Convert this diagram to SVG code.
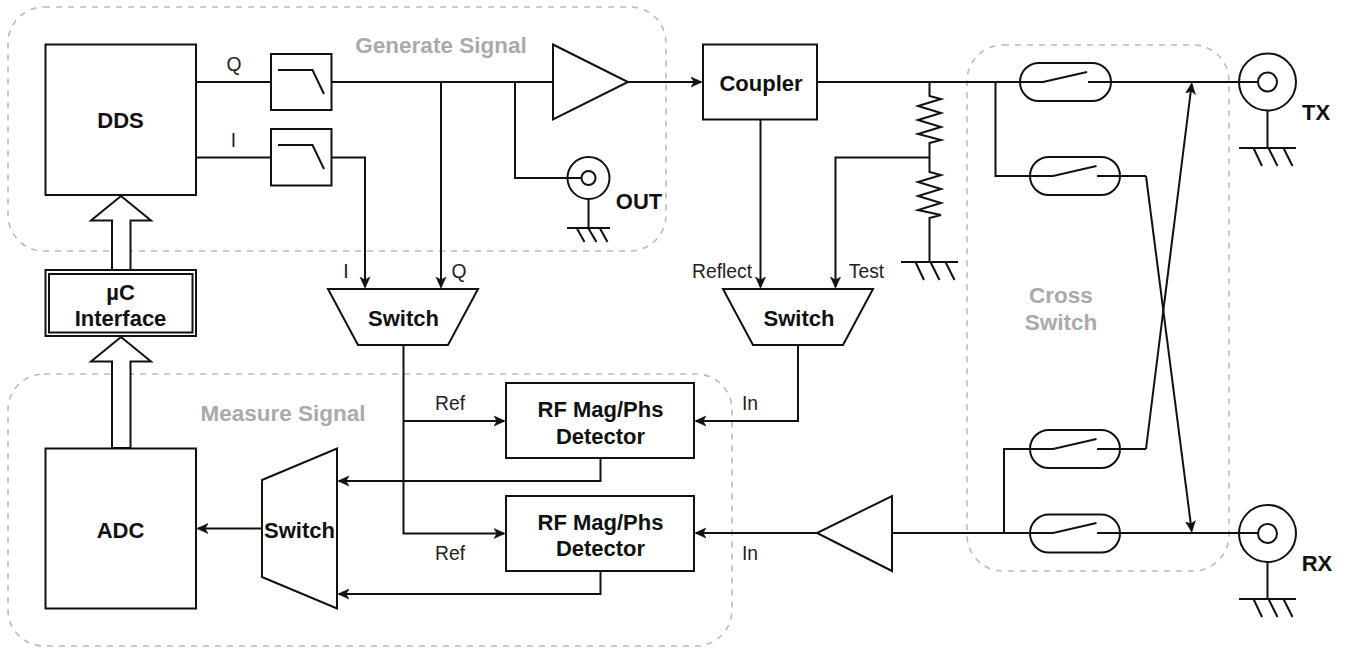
<svg xmlns="http://www.w3.org/2000/svg" width="1345" height="651" viewBox="0 0 1345 651">
<defs>
<style>
text{font-family:"Liberation Sans",Arial,sans-serif;text-anchor:middle;fill:#111}
.b{font-weight:700;font-size:22px}
.r{font-size:19.300px;fill:#222}
.g{font-weight:700;font-size:22.500px;fill:#aaa}
.s{fill:none;stroke:#111;stroke-width:2}
.n{fill:#fff;stroke:#111;stroke-width:2}
.d{fill:none;stroke:#bbb;stroke-width:1.6;stroke-dasharray:6 6}
.c{fill:none;stroke:#111;stroke-width:2}
.a{marker-end:url(#arr)}
</style>
<marker id="arr" markerUnits="userSpaceOnUse" markerWidth="14" markerHeight="12" refX="10" refY="6" orient="auto" viewBox="0 0 14 12"><path d="M0,1 L11,6 L0,11 L3,6Z" fill="#111" stroke="#111" stroke-width="0.6"/></marker>
<g id="gnd"><path class="s" d="M-28.500,0H28.500M-14,0L-5.500,18M1,0L10,18M16,0L25,18"/></g>
</defs>
<rect width="1345" height="651" fill="#fff"/>
<g id="regions">
<g id="generate-signal"><rect class="d" x="8" y="7" width="658" height="244" rx="36"/><text class="g" x="441" y="53">Generate Signal</text></g>
<g id="measure-signal"><rect class="d" x="8" y="374" width="724" height="272" rx="36"/><text class="g" x="283" y="421">Measure Signal</text></g>
<g id="cross-switch"><rect class="d" x="967" y="45" width="262" height="526" rx="36"/><text class="g" x="1061" y="303">Cross</text><text class="g" x="1061" y="330">Switch</text></g>
</g>
<g id="connectors">
<path class="c" d="M196,82H271M331,82H553"/>
<path class="c" d="M196,157.500H271"/>
<path class="c a" d="M331,157.500H365V287"/>
<path class="c a" d="M441,82V287"/>
<path class="c" d="M515,82V178H581"/>
<path class="c a" d="M628,82H701"/>
<path class="c" d="M817,82H1043L1087,72M1088,82H1258"/>
<path class="c a" d="M760.500,119.500V287"/>
<path class="c" d="M929.500,82V96L941,99L918,106L941,113L918,120L941,127L918,134L941,140L929.500,143V172L941,175L918,182L941,189L918,196L941,203L918,210L941,215L929.500,218V262"/>
<path class="c a" d="M929.500,157.500H835.500V287"/>
<path class="c" d="M995.500,82V176H1053L1096.500,166M1097,176H1146"/>
<path class="c a" d="M1146,176L1191.700,531"/>
<path class="c a" d="M1146,449L1191.700,84"/>
<path class="c" d="M1146,449H1097M1096.500,439L1053,449H1004V533"/>
<path class="c" d="M892,533H1053L1096.500,523M1097,533H1258"/>
<path class="c a" d="M817,533H696"/>
<path class="c a" d="M798,345V421H696"/>
<path class="c a" d="M403.500,345V533.500H504"/>
<path class="c a" d="M403.500,421H504"/>
<path class="c a" d="M600.500,458V481H339"/>
<path class="c a" d="M600.500,571V594H339"/>
<path class="c a" d="M262,528.500H198"/>
</g>
<g id="dds"><rect class="n" x="45.500" y="44.500" width="150.500" height="150.500"/><text class="b" x="120.500" y="128">DDS</text></g>
<g id="filter-q"><rect class="n" x="271" y="54" width="60.500" height="56"/><path class="s" d="M278,70H312.500L324,94"/></g>
<g id="filter-i"><rect class="n" x="271" y="129" width="60.500" height="56.500"/><path class="s" d="M278,145H312.500L324,169"/></g>
<g id="uc-interface"><rect class="n" x="45.500" y="270" width="150.500" height="66"/><rect class="s" x="49" y="274" width="143.500" height="58.500"/><text class="b" x="120.500" y="299.500">µC</text><text class="b" x="120.500" y="326">Interface</text></g>
<g id="bus-top"><path class="n" d="M121,196L151,220.500H130.500V270H112V220.500H91Z"/></g>
<g id="bus-bottom"><path class="n" d="M121,337L151,361.500H130.500V448H112V361.500H91Z"/></g>
<g id="adc"><rect class="n" x="45.500" y="448.500" width="150.500" height="160"/><text class="b" x="120.500" y="538">ADC</text></g>
<g id="switch-adc"><path class="n" d="M262,480L337,448.500V608.500L262,577Z"/><text class="b" x="299.500" y="538">Switch</text></g>
<g id="switch-iq"><path class="n" d="M328,289H478L448,345H358Z"/><text class="b" x="403.500" y="326">Switch</text></g>
<g id="switch-rf"><path class="n" d="M723,289H873L843,345H753Z"/><text class="b" x="799" y="326">Switch</text></g>
<g id="amp-tx"><path class="n" d="M553,44.500L628,82L553,119.500Z"/></g>
<g id="amp-rx"><path class="n" d="M892,496V571L817,533Z"/></g>
<g id="coupler"><rect class="n" x="703" y="44.500" width="114" height="75"/><text class="b" x="761" y="91">Coupler</text></g>
<g id="out"><circle class="s" cx="588.500" cy="178" r="21"/><circle class="s" cx="588.500" cy="178" r="7"/><path class="s" d="M575,178H581.500M588.500,199V228M567,228H610M577,228.500L584.500,242M588.500,228.500L596.500,242M600,228.500L607.500,242"/><text class="b" x="639" y="209">OUT</text></g>
<g id="tx"><circle class="s" cx="1267.500" cy="82" r="28.500"/><circle class="s" cx="1267.500" cy="82" r="9.500"/><path class="s" d="M1267.500,110.500V147.500"/><use href="#gnd" x="1267.500" y="148"/><text class="b" x="1316" y="120">TX</text></g>
<g id="rx"><circle class="s" cx="1267.500" cy="533.500" r="28.500"/><circle class="s" cx="1267.500" cy="533.500" r="9.500"/><path class="s" d="M1267.500,562V599"/><use href="#gnd" x="1267.500" y="599"/><text class="b" x="1317" y="571">RX</text></g>
<g id="ground-r"><use href="#gnd" x="929.500" y="262"/></g>
<g id="rf-detector-1"><rect class="n" x="506" y="383" width="188" height="75"/><text class="b" x="600.500" y="417">RF Mag/Phs</text><text class="b" x="600.500" y="443.500">Detector</text></g>
<g id="rf-detector-2"><rect class="n" x="506" y="496" width="188" height="75"/><text class="b" x="600.500" y="529.500">RF Mag/Phs</text><text class="b" x="600.500" y="556">Detector</text></g>
<g id="sw-1"><rect class="s" x="1020" y="63" width="91" height="38" rx="19"/></g>
<g id="sw-2"><rect class="s" x="1030" y="157" width="90" height="38" rx="19"/></g>
<g id="sw-3"><rect class="s" x="1030" y="430" width="90" height="38" rx="19"/></g>
<g id="sw-4"><rect class="s" x="1030" y="514.500" width="90" height="38" rx="19"/></g>
<g id="labels">
<text class="r" x="234" y="71">Q</text>
<text class="r" x="233.500" y="146.500">I</text>
<text class="r" x="346" y="278">I</text>
<text class="r" x="459" y="278">Q</text>
<text class="r" x="722" y="278">Reflect</text>
<text class="r" x="866.500" y="278">Test</text>
<text class="r" x="450" y="410">Ref</text>
<text class="r" x="450" y="560">Ref</text>
<text class="r" x="750" y="410">In</text>
<text class="r" x="750" y="560">In</text>
</g>
</svg>
